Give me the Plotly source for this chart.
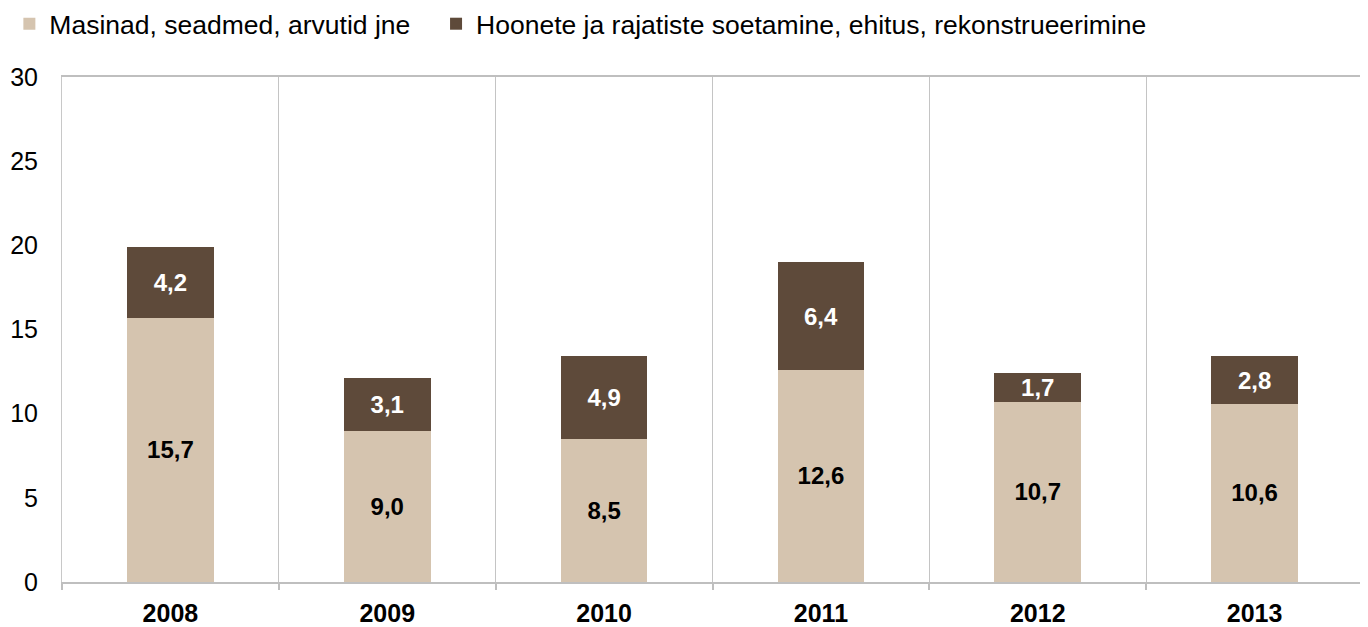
import plotly.graph_objects as go

years = ["2008", "2009", "2010", "2011", "2012", "2013"]
masinad = [15.7, 9.0, 8.5, 12.6, 10.7, 10.6]
hoonete = [4.2, 3.1, 4.9, 6.4, 1.7, 2.8]
name_masinad = "Masinad, seadmed, arvutid jne"
name_hoonete = "Hoonete ja rajatiste soetamine, ehitus, rekonstrueerimine"

FONT = "Liberation Sans, Arial, sans-serif"

fig = go.Figure()
fig.add_trace(go.Bar(
    x=years, y=masinad, name=name_masinad, legend="legend",
    marker=dict(color="#D5C4AF", line=dict(width=0)),
    texttemplate="<b>%{y:.1f}</b>", textposition="inside", insidetextanchor="middle",
    constraintext="none", textangle=0,
    textfont=dict(color="black", size=24, family=FONT),
))
fig.add_trace(go.Bar(
    x=years, y=hoonete, name=name_hoonete, legend="legend2",
    marker=dict(color="#5E4A3A", line=dict(width=0)),
    texttemplate="<b>%{y:.1f}</b>", textposition="inside", insidetextanchor="middle",
    constraintext="none", textangle=0,
    textfont=dict(color="white", size=24, family=FONT),
))

legend_common = dict(
    orientation="h", xref="container", yref="container",
    yanchor="middle", y=0.9745, xanchor="left",
    font=dict(size=26.5, family=FONT, color="black"),
    itemwidth=30, bgcolor="rgba(0,0,0,0)",
)

fig.update_layout(
    barmode="stack",
    bargap=0.6,
    separators=", ",
    width=1368, height=627,
    margin=dict(l=54, r=13, t=69, b=53, autoexpand=False),
    paper_bgcolor="white", plot_bgcolor="white",
    font=dict(family=FONT, size=25, color="black"),
    legend=dict(x=0.001, **legend_common),
    legend2=dict(x=0.3129, **legend_common),
    showlegend=True,
)
fig.update_xaxes(
    type="category", tickson="boundaries", showgrid=True, gridcolor="#C4C4C4", gridwidth=1,
    showline=True, linecolor="#BFBFBF", linewidth=2, mirror=True,
    ticks="outside", ticklen=6, tickcolor="#BFBFBF", tickwidth=2, ticklabelstandoff=8,
    tickfont=dict(size=25, family=FONT, color="black", weight="bold"),
)
fig.update_yaxes(
    range=[0, 30], dtick=5, showgrid=False, zeroline=False,
    showline=True, linecolor="#C8C8C8", linewidth=1, mirror=True,
    ticks="", ticklabelstandoff=18,
    tickfont=dict(size=25, family=FONT, color="black"),
)

fig.write_html("out.html")
